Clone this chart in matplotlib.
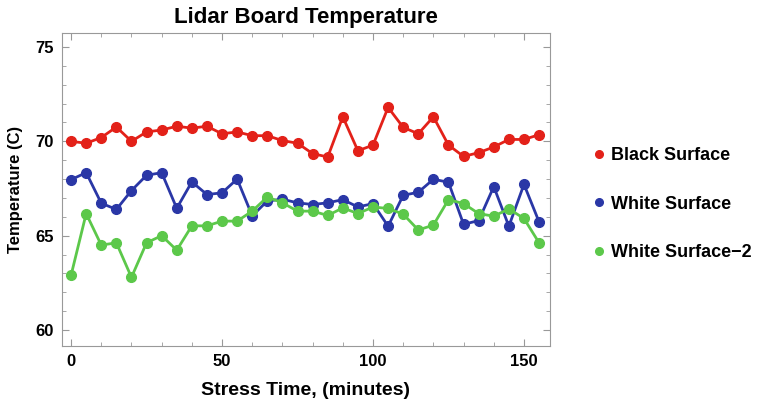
import matplotlib
matplotlib.use("Agg")
import matplotlib.pyplot as plt
from matplotlib.ticker import MultipleLocator

plt.rcParams["font.family"] = ["Liberation Sans", "DejaVu Sans"]
plt.rcParams["font.weight"] = "bold"

minutes = list(range(0, 160, 5))

black_surface = [
    70.0, 69.9, 70.2, 70.76, 70.0, 70.5, 70.6, 70.8, 70.7, 70.8,
    70.4, 70.5, 70.3, 70.3, 70.04, 69.9, 69.35, 69.17, 71.3, 69.5,
    69.8, 71.8, 70.74, 70.4, 71.3, 69.8, 69.2, 69.4, 69.7, 70.1,
    70.1, 70.35,
]
white_surface = [
    67.97, 68.34, 66.72, 66.39, 67.39, 68.2, 68.34, 66.45, 67.85, 67.18,
    67.27, 68.0, 66.05, 66.84, 66.93, 66.74, 66.65, 66.74, 66.91, 66.52,
    66.7, 65.5, 67.14, 67.3, 67.99, 67.83, 65.6, 65.8, 67.6, 65.5,
    67.72, 65.73,
]
white_surface_2 = [
    62.9, 66.17, 64.5, 64.62, 62.79, 64.62, 65.0, 64.23, 65.52, 65.52,
    65.77, 65.77, 66.3, 67.05, 66.74, 66.3, 66.3, 66.07, 66.47, 66.17,
    66.52, 66.44, 66.14, 65.3, 65.56, 66.91, 66.7, 66.17, 66.03, 66.42,
    65.91, 64.62,
]

series = [
    ("Black Surface", black_surface, "#e32119"),
    ("White Surface", white_surface, "#2a37a6"),
    ("White Surface\u22122", white_surface_2, "#5cc84a"),
]

fig = plt.figure(figsize=(7.6, 4.04), dpi=100)
ax = fig.add_axes([0.0816, 0.1436, 0.642, 0.775])

for label, ys, colour in series:
    ax.plot(minutes, ys, color=colour, linewidth=2.0, marker="o",
            markersize=7, label=label)

ax.set_xlim(-3, 158.6)
ax.set_ylim(59.15, 75.75)
ax.xaxis.set_major_locator(MultipleLocator(50))
ax.xaxis.set_minor_locator(MultipleLocator(10))
ax.yaxis.set_major_locator(MultipleLocator(5))
ax.yaxis.set_minor_locator(MultipleLocator(1))
ax.tick_params(which="both", direction="in", top=True, right=True,
               color="#999999", labelsize=12, pad=6)
ax.tick_params(which="major", length=5)
ax.tick_params(which="minor", length=3)
for spine in ax.spines.values():
    spine.set_color("#999999")

ax.set_title("Lidar Board Temperature", fontsize=16, fontweight="bold", pad=7)
ax.set_xlabel("Stress Time, (minutes)", fontsize=14, fontweight="bold",
              labelpad=9)
ax.set_ylabel("Temperature (C)", fontsize=12, fontweight="bold", labelpad=9)

fig.legend(
    [plt.Line2D([], [], color=c, marker="o", linestyle="none", markersize=5.5)
     for _, _, c in series],
    [s[0] for s in series],
    loc="center left", bbox_to_anchor=(0.757, 0.495), frameon=False,
    fontsize=13, labelspacing=1.75, handletextpad=0.3, handlelength=0.8,
)

fig.savefig("out.png", dpi=100)
